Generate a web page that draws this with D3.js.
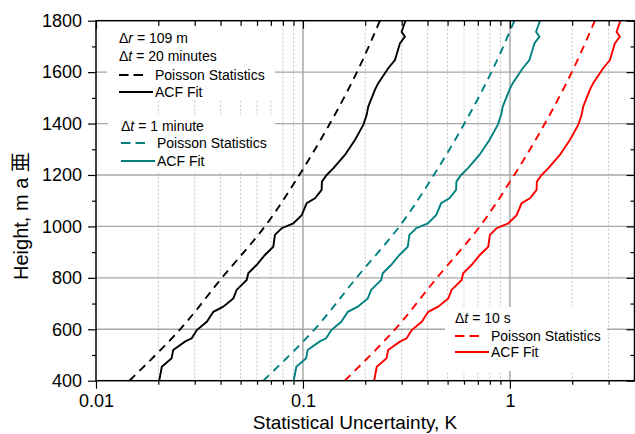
<!DOCTYPE html>
<meta charset="utf-8">
<style>
body { margin: 0; background: #fff; }
text { font-family: "Liberation Sans", Arial, "Noto Sans CJK JP", sans-serif; fill: #000; }
.grid-h { stroke: #a8a8a8; stroke-width: 1.3px; }
.grid-vmajor { stroke: #bcbcbc; stroke-width: 2px; }
.grid-minor { stroke: #c6c6c6; stroke-width: 1px; stroke-dasharray: 2,2; }
.frame { fill: none; stroke: #000; stroke-width: 1.5px; }
.axis path { display: none; }
.axis line { stroke: #000; stroke-width: 1.2px; }
.axis text { font-size: 18px; font-family: "Liberation Sans", Arial, sans-serif; }
.curve { fill: none; stroke-width: 1.9px; }
.dashed { stroke-dasharray: 8,6; }
.legend text { font-size: 14px; }
</style>
<svg width="635" height="434"></svg>
<script src="https://cdnjs.cloudflare.com/ajax/libs/d3/7.8.5/d3.min.js"></script>
<script>

// ACF fit curves
const acfHeights = [400,454,487,519,552,565,597,629,668,688,720,753,792,818,850,889,921,967,993,1012,
                    1044,1090,1109,1142,1174,1200,1226,1278,1336,1395,1433,1466,1531,1557,1615,1647,1712,1738,1757,1800];
const acf20min = [0.0202,0.0208,0.0232,0.0236,0.0269,0.0290,0.0307,0.0343,0.0369,0.0412,0.0461,0.0478,0.0535,0.0544,
                  0.0597,0.0655,0.0719,0.0732,0.0789,0.0898,0.0986,0.1042,0.1143,0.1231,0.1235,0.1302,0.1401,0.1595,
                  0.1783,0.1956,0.2031,0.2068,0.2227,0.2311,0.2583,0.2783,0.2942,0.3110,0.2998,0.3127];
const acf1min = [0.0902,0.0929,0.1036,0.1054,0.1201,0.1295,0.1371,0.1531,0.1648,0.1840,0.2058,0.2134,0.2389,0.2429,
                 0.2666,0.2925,0.3210,0.3268,0.3523,0.4010,0.4402,0.4653,0.5103,0.5496,0.5514,0.5813,0.6255,0.7122,
                 0.7961,0.8734,0.9068,0.9234,0.9944,1.0319,1.1533,1.2426,1.3136,1.3886,1.3386,1.3962];
const acf10s = [0.2208,0.2273,0.2536,0.2579,0.2940,0.3170,0.3356,0.3749,0.4033,0.4503,0.5039,0.5225,0.5848,0.5946,
                0.6525,0.7159,0.7859,0.8001,0.8624,0.9815,1.0777,1.1389,1.2493,1.3455,1.3499,1.4231,1.5313,1.7433,
                1.9488,2.1379,2.2199,2.2603,2.4341,2.5259,2.8232,3.0418,3.2156,3.3992,3.2768,3.4178];

// Poisson statistics curves
const poissonHeights = [400,600,800,1000,1200,1400,1600,1800];
const poisson20min = [0.0145,0.0255,0.0406,0.0655,0.0960,0.1350,0.1823,0.2355];
const poisson1min = [0.0643,0.1139,0.1813,0.2925,0.4290,0.6028,0.8140,1.0515];
const poisson10s = [0.1590,0.2787,0.4438,0.7159,1.0500,1.4756,1.9920,2.5740];

const yMajor = [400,600,800,1000,1200,1400,1600,1800];
const yMinor = [500,700,900,1100,1300,1500,1700];
const xMajor = [0.01,0.1,1];
const xMinor = [0.02,0.03,0.04,0.05,0.06,0.07,0.08,0.09,0.2,0.3,0.4,0.5,0.6,0.7,0.8,0.9,2,3];

const pLeft = 96, pRight = 634.5, pTop = 20.7, pBottom = 380.7;

const svg = d3.select("svg");
const x = d3.scaleLog().domain([0.01, 4]).range([pLeft, pRight]);
const y = d3.scaleLinear().domain([400, 1800]).range([pBottom, pTop]);

// grid
svg.append("g").selectAll("line").data(xMinor).enter().append("line")
  .attr("class", "grid-minor")
  .attr("x1", d => x(d)).attr("x2", d => x(d))
  .attr("y1", pTop).attr("y2", pBottom);
svg.append("g").selectAll("line").data([0.1, 1]).enter().append("line")
  .attr("class", "grid-vmajor")
  .attr("x1", d => x(d)).attr("x2", d => x(d))
  .attr("y1", pTop).attr("y2", pBottom);
svg.append("g").selectAll("line").data(yMajor.slice(1, -1)).enter().append("line")
  .attr("class", "grid-h")
  .attr("x1", pLeft).attr("x2", pRight)
  .attr("y1", d => y(d)).attr("y2", d => y(d));

// legend backgrounds (cover grid)
const boxes = [[107,27,168,73],[108,116,167,56],[445,307,162,64]];
svg.append("g").selectAll("rect").data(boxes).enter().append("rect")
  .attr("x", d => d[0]).attr("y", d => d[1])
  .attr("width", d => d[2]).attr("height", d => d[3])
  .attr("fill", "#fff");

// curves
const line = d3.line().x(d => x(d[0])).y(d => y(d[1]));
const smooth = d3.line().x(d => x(d[0])).y(d => y(d[1])).curve(d3.curveMonotoneY);

const series = [
  {vals: poisson20min, h: poissonHeights, color: "#000000", dashed: true},
  {vals: acf20min, h: acfHeights, color: "#000000", dashed: false},
  {vals: poisson1min, h: poissonHeights, color: "#008080", dashed: true},
  {vals: acf1min, h: acfHeights, color: "#008080", dashed: false},
  {vals: poisson10s, h: poissonHeights, color: "#ff0000", dashed: true},
  {vals: acf10s, h: acfHeights, color: "#ff0000", dashed: false}
];

series.forEach(function(s) {
  const pts = s.vals.map((v, i) => [v, s.h[i]]);
  svg.append("path")
    .attr("class", "curve" + (s.dashed ? " dashed" : ""))
    .attr("stroke", s.color)
    .attr("d", s.dashed ? smooth(pts) : line(pts));
});

// axes
svg.append("g").attr("class", "axis").attr("transform", "translate(" + pLeft + ",0)")
  .call(d3.axisLeft(y).tickValues(yMajor).tickSize(8).tickPadding(6).tickFormat(d3.format("d")));
svg.append("g").attr("class", "axis").attr("transform", "translate(" + pLeft + ",0)")
  .call(d3.axisLeft(y).tickValues(yMinor).tickSize(4).tickFormat(""));
svg.append("g").attr("class", "axis").attr("transform", "translate(" + pRight + ",0)")
  .call(d3.axisRight(y).tickValues(yMajor).tickSize(-8).tickFormat(""));
svg.append("g").attr("class", "axis").attr("transform", "translate(" + pRight + ",0)")
  .call(d3.axisRight(y).tickValues(yMinor).tickSize(-4).tickFormat(""));
svg.append("g").attr("class", "axis").attr("transform", "translate(0," + pBottom + ")")
  .call(d3.axisBottom(x).tickValues(xMajor).tickSize(8).tickPadding(6).tickFormat(d3.format("")));
svg.append("g").attr("class", "axis").attr("transform", "translate(0," + pBottom + ")")
  .call(d3.axisBottom(x).tickValues(xMinor).tickSize(4).tickFormat(""));
svg.append("g").attr("class", "axis").attr("transform", "translate(0," + pTop + ")")
  .call(d3.axisTop(x).tickValues(xMajor).tickSize(-8).tickFormat(""));
svg.append("g").attr("class", "axis").attr("transform", "translate(0," + pTop + ")")
  .call(d3.axisTop(x).tickValues(xMinor).tickSize(-5).tickFormat(""));

svg.append("rect").attr("class", "frame")
  .attr("x", pLeft).attr("y", pTop)
  .attr("width", pRight - pLeft).attr("height", pBottom - pTop);

// axis titles
svg.append("text")
  .attr("x", 355).attr("y", 429)
  .attr("text-anchor", "middle")
  .style("font-size", "19px")
  .text("Statistical Uncertainty, K");
svg.append("text")
  .attr("transform", "translate(28,280) rotate(-90)")
  .style("font-size", "20px")
  .text("Height, m a 亜");

// legends
const legend = svg.append("g").attr("class", "legend");

function header(x0, yb, sym, rest) {
  const t = legend.append("text").attr("x", x0).attr("y", yb);
  t.append("tspan").text("\u0394");
  t.append("tspan").style("font-style", "italic").text(sym);
  t.append("tspan").text(rest);
}

function row(x0, yb, color, dashed, label) {
  legend.append("line")
    .attr("x1", x0).attr("x2", x0 + (dashed ? 24 : 34))
    .attr("y1", yb - 5).attr("y2", yb - 5)
    .attr("stroke", color).attr("stroke-width", 1.8)
    .attr("stroke-dasharray", dashed ? "9.5,5" : null);
  legend.append("text").attr("x", x0 + 36).attr("y", yb).text(label);
}

header(119, 43, "r", " = 109 m");
header(119, 61, "t", " = 20 minutes");
row(119, 80, "#000000", true, "Poisson Statistics");
row(119, 97, "#000000", false, "ACF Fit");

header(121, 131, "t", " = 1 minute");
row(121, 148, "#008080", true, "Poisson Statistics");
row(121, 166, "#008080", false, "ACF Fit");

header(455, 323, "t", " = 10 s");
row(455, 341, "#ff0000", true, "Poisson Statistics");
row(455, 357, "#ff0000", false, "ACF Fit");

</script>
